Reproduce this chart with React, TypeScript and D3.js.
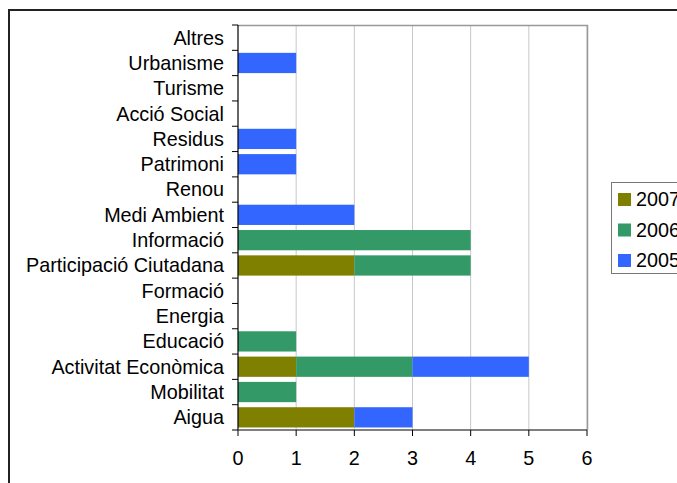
import React from "react";
import * as d3 from "d3";

const categories = [
  "Aigua", "Mobilitat", "Activitat Econòmica", "Educació", "Energia", "Formació",
  "Participació Ciutadana", "Informació", "Medi Ambient", "Renou", "Patrimoni",
  "Residus", "Acció Social", "Turisme", "Urbanisme", "Altres",
];
const seriesNames = ["2007", "2006", "2005"];
const values2007 = [2, 0, 1, 0, 0, 0, 2, 0, 0, 0, 0, 0, 0, 0, 0, 0];
const values2006 = [0, 1, 2, 1, 0, 0, 2, 4, 0, 0, 0, 0, 0, 0, 0, 0];
const values2005 = [1, 0, 2, 0, 0, 0, 0, 0, 2, 0, 1, 1, 0, 0, 1, 0];
const seriesColors = ["#808000", "#339966", "#3366FF"];
const xTicks = [0, 1, 2, 3, 4, 5, 6];

const FONT = "'Liberation Sans', Arial, sans-serif";
const FS = 19.8;

export default function App() {
  const W = 677, H = 483;
  const left = 238, right = 587, top = 25, bottom = 430;
  const x = d3.scaleLinear().domain([0, 6]).range([left, right]);
  const y = d3.scaleBand<string>().domain([...categories].reverse()).range([top, bottom]).paddingInner(0.2).paddingOuter(0.1);
  const yOuter = d3.scaleBand<string>().domain([...categories].reverse()).range([top, bottom]);

  const rows = categories.map((c, i) => ({
    cat: c, "2007": values2007[i], "2006": values2006[i], "2005": values2005[i],
  }));
  const stacked = d3.stack<any>().keys(seriesNames)(rows);

  return (
    <svg width={W} height={H} style={{ position: "absolute", left: 0, top: 0 }} fontFamily={FONT}>
      <rect x={0} y={0} width={W} height={H} fill="#fff" />
      {/* outer frame */}
      <path d={`M9,${H + 5} V10 H${W + 5}`} fill="none" stroke="#222" strokeWidth={2} />
      {/* grid */}
      {xTicks.filter(t => t > 0).map(t => (
        <line key={t} x1={x(t)} x2={x(t)} y1={top} y2={bottom} stroke="#c8c8c8" strokeWidth={1} />
      ))}
      {/* plot border top/right */}
      <path d={`M${left},${top + 0.5} H${right + 0.5} V${bottom}`} fill="none" stroke="#999" strokeWidth={1.5} />
      {/* bars */}
      {stacked.map((s, si) => (
        <g key={s.key} fill={seriesColors[si]}>
          {s.map((d, i) => d[1] - d[0] > 0 ? (
            <rect key={i} x={x(d[0])} width={x(d[1]) - x(d[0])} y={y(categories[i])} height={y.bandwidth()} />
          ) : null)}
        </g>
      ))}
      {/* y axis */}
      <line x1={left} x2={left} y1={top} y2={bottom} stroke="#000" strokeWidth={1.2} />
      {categories.map((c, i) => (
        <line key={"t" + i} x1={left - 6} x2={left} y1={yOuter(c)!} y2={yOuter(c)!} stroke="#000" strokeWidth={1} />
      ))}
      <line x1={left - 6} x2={left} y1={bottom} y2={bottom} stroke="#000" strokeWidth={1} />
      {categories.map(c => (
        <text key={c} x={224} y={yOuter(c)! + yOuter.bandwidth() / 2} dy="0.35em" textAnchor="end" fontSize={FS} fill="#000">{c}</text>
      ))}
      {/* x axis */}
      <line x1={left} x2={right} y1={bottom} y2={bottom} stroke="#555" strokeWidth={1.5} />
      {xTicks.map(t => (
        <g key={t}>
          <line x1={x(t)} x2={x(t)} y1={bottom} y2={bottom + 6} stroke="#000" strokeWidth={1} />
          <text x={x(t)} y={458} dy="0.35em" textAnchor="middle" fontSize={FS} fill="#000">{t}</text>
        </g>
      ))}
      {/* legend */}
      <rect x={611.5} y={182.5} width={80} height={91} fill="#fff" stroke="#777" strokeWidth={1} />
      {seriesNames.map((n, i) => (
        <g key={n}>
          <rect x={618} y={193 + i * 30.5} width={13} height={13} fill={seriesColors[i]} />
          <text x={636} y={199.5 + i * 30.5} dy="0.35em" fontSize={FS} fill="#000">{n}</text>
        </g>
      ))}
    </svg>
  );
}
